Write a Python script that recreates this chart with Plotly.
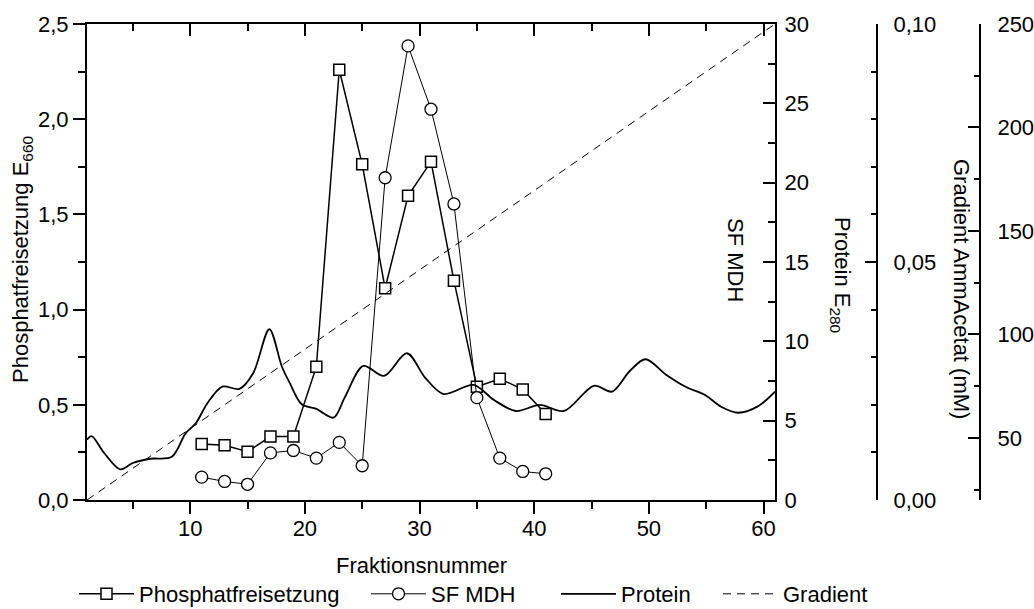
import plotly.graph_objects as go

# ---------------- data ----------------
fractions = [11, 13, 15, 17, 19, 21, 23, 25, 27, 29, 31, 33, 35, 37, 39, 41]
phosphat = [0.294, 0.287, 0.254, 0.333, 0.333, 0.700, 2.26, 1.763, 1.112, 1.598,
            1.777, 1.152, 0.595, 0.637, 0.581, 0.452]
sf_mdh = [0.0048, 0.0039, 0.0033, 0.0099, 0.0104, 0.0088, 0.0121, 0.0072, 0.0677,
          0.0954, 0.0821, 0.0622, 0.0215, 0.0088, 0.0060, 0.0055]
protein_x = [1, 1.4, 2.5, 3.9, 5, 6.5, 8.4, 9.6, 10.5, 11.5, 12.8, 14.3, 15.5, 16.9,
             18, 18.7, 19.7, 21, 22.5, 23.5, 25.1, 26.9, 28.9, 30.5, 32.1, 34.7, 36.5,
             38.4, 40.5, 42.6, 45.2, 46.8, 48.3, 49.7, 51.5, 53.2, 54.9, 56.3, 57.8,
             59.5, 61]
protein_e280 = [3.8, 4.03, 2.96, 1.93, 2.33, 2.6, 2.72, 4.2, 4.85, 6.1, 7.15, 7.0, 8.0,
                10.76, 8.4, 7.35, 6.05, 5.74, 5.19, 6.5, 8.45, 7.82, 9.25, 7.7, 6.68,
                7.25, 6.3, 5.61, 5.99, 5.61, 7.2, 6.83, 8.1, 8.87, 7.9, 7.14, 6.62,
                5.88, 5.5, 5.9, 6.83]
gradient_x = [1, 61]
gradient_mM = [20, 250]

# ---------------- layout helpers ----------------
W, H = 1034, 609
ML, MR, MT, MB = 87, 40, 24, 109
PW = W - ML - MR
PH = H - MT - MB
FONT = "Arial, 'Liberation Sans', sans-serif"
FS = 22


def pxx(p):
    return (p - ML) / PW


def pxy(p):
    return (H - MB - p) / PH


XEND = pxx(775)

fig = go.Figure()

fig.add_trace(go.Scatter(
    x=gradient_x, y=gradient_mM, mode="lines", name="Gradient",
    line=dict(color="black", width=1, dash="8px,6px"),
    xaxis="x", yaxis="y4", legend="legend4"))

fig.add_trace(go.Scatter(
    x=protein_x, y=protein_e280, mode="lines", name="Protein",
    line=dict(color="black", width=1.8, shape="spline", smoothing=0.9),
    xaxis="x", yaxis="y2", legend="legend3"))

fig.add_trace(go.Scatter(
    x=fractions, y=sf_mdh, mode="lines+markers", name="SF MDH",
    line=dict(color="black", width=1),
    marker=dict(symbol="circle", size=12, color="white",
                line=dict(color="black", width=1.3)),
    xaxis="x", yaxis="y3", legend="legend2"))

fig.add_trace(go.Scatter(
    x=fractions, y=phosphat, mode="lines+markers", name="Phosphatfreisetzung",
    line=dict(color="black", width=1.5),
    marker=dict(symbol="square", size=11, color="white",
                line=dict(color="black", width=1.5)),
    xaxis="x", yaxis="y", legend="legend"))

# helper trace (off-range, invisible) so the mirrored top axis subplot is drawn
fig.add_trace(go.Scatter(x=[-100], y=[-100], mode="markers", xaxis="x2", yaxis="y",
                         marker=dict(opacity=0), showlegend=False, hoverinfo="skip"))

tickfont = dict(family=FONT, size=FS, color="black")
common = dict(showgrid=False, zeroline=False, showline=True, linecolor="black",
              linewidth=2, tickcolor="black", tickwidth=2, tickfont=tickfont)

fig.update_layout(
    width=W, height=H,
    margin=dict(l=ML, r=MR, t=MT, b=MB, autoexpand=False),
    paper_bgcolor="white", plot_bgcolor="rgba(0,0,0,0)",
    separators=",.",
    font=dict(family=FONT, size=FS, color="black"),
    xaxis=dict(domain=[0, XEND], range=[1, 61], dtick=10,
               ticks="outside", ticklen=12, anchor="y",
               minor=dict(dtick=5, ticks="outside", ticklen=7,
                          tickwidth=2, tickcolor="black"),
               ticklabelstandoff=-4, **common),
    xaxis2=dict(domain=[0, XEND], range=[1, 61], dtick=10,
                overlaying="x", side="top", anchor="y",
                ticks="inside", ticklen=12, showticklabels=False,
                minor=dict(dtick=5, ticks="inside", ticklen=7,
                           tickwidth=2, tickcolor="black"),
                **common),
    yaxis=dict(domain=[0, 1], range=[0, 2.5], dtick=0.5, tickformat=".1f",
               ticks="outside", ticklen=12, anchor="x",
               minor=dict(dtick=0.25, ticks="outside", ticklen=7,
                          tickwidth=2, tickcolor="black"),
               ticklabelstandoff=0, **common),
    yaxis2=dict(range=[0, 30], dtick=5, overlaying="y", side="right", anchor="x",
                ticks="inside", ticklen=12,
                minor=dict(dtick=2.5, ticks="inside", ticklen=7,
                           tickwidth=2, tickcolor="black"),
                ticklabelstandoff=3, **common),
    yaxis3=dict(range=[0, 0.1], dtick=0.05, tickformat=".2f", overlaying="y",
                side="right", anchor="free", position=pxx(877),
                ticks="inside", ticklen=11,
                minor=dict(dtick=0.01, ticks="inside", ticklen=5,
                           tickwidth=2, tickcolor="black"),
                ticklabelstandoff=11, **common),
    yaxis4=dict(range=[20, 250], tick0=0, dtick=50, overlaying="y",
                side="right", anchor="free", position=pxx(980),
                ticks="inside", ticklen=11,
                minor=dict(dtick=25, tick0=0, ticks="inside", ticklen=5,
                           tickwidth=2, tickcolor="black"),
                ticklabelstandoff=12, **common),
)

legbase = dict(orientation="h", yanchor="middle", y=pxy(594), xanchor="left",
               bgcolor="rgba(0,0,0,0)", borderwidth=0, itemwidth=55,
               font=dict(family=FONT, size=FS, color="black"))
fig.update_layout(
    legend=dict(x=pxx(74), **legbase),
    legend2=dict(x=pxx(366), **legbase),
    legend3=dict(x=pxx(556), **legbase),
    legend4=dict(x=pxx(718), **legbase),
)

ann = []
ann.append(dict(text="Fraktionsnummer", x=pxx(421), y=pxy(565)))
ann.append(dict(text="Phosphatfreisetzung E<sub>660</sub>", x=pxx(22), y=pxy(260),
                textangle=-90))
ann.append(dict(text="SF MDH", x=pxx(736), y=pxy(260), textangle=90))
ann.append(dict(text="Protein E<sub>280</sub>", x=pxx(841), y=pxy(275), textangle=90))
ann.append(dict(text="Gradient AmmAcetat (mM)", x=pxx(962), y=pxy(289), textangle=90))
for a in ann:
    a.update(xref="paper", yref="paper", xanchor="center", yanchor="middle",
             showarrow=False, font=dict(family=FONT, size=FS, color="black"))
fig.update_layout(annotations=ann)

fig.write_html("out.html")
